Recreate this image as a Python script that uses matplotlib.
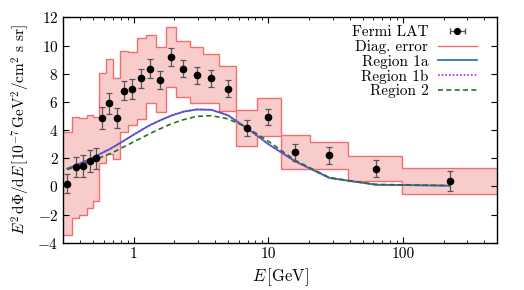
import numpy as np
import matplotlib
matplotlib.use("Agg")
import matplotlib.pyplot as plt
from matplotlib.lines import Line2D

plt.rcParams['font.family'] = ['cmr10', 'DejaVu Serif']
plt.rcParams['mathtext.fontset'] = 'cm'
plt.rcParams['axes.unicode_minus'] = False
plt.rcParams['axes.formatter.use_mathtext'] = True

# ------------------------------------------------------------
# Fermi LAT data points (E in GeV, E^2 dPhi/dE in 1e-7 GeV^2/cm^2 s sr)
energy = [0.321, 0.371, 0.42, 0.474, 0.525, 0.582, 0.659, 0.748, 0.853, 0.978,
          1.135, 1.32, 1.58, 1.905, 2.33, 2.93, 3.76, 5.0, 6.89, 10.0,
          15.8, 28.4, 62.4, 222.0]
flux = [0.2, 1.35, 1.45, 1.8, 2.0, 4.85, 5.9, 4.85, 6.8, 6.92,
        7.68, 8.36, 7.56, 9.19, 8.36, 7.89, 7.68, 6.92, 4.14, 4.92,
        2.42, 2.2, 1.26, 0.41]
flux_err = [0.68, 0.71, 0.75, 0.78, 0.74, 0.77, 0.74, 0.73, 0.68, 0.71,
            0.68, 0.68, 0.66, 0.66, 0.61, 0.61, 0.61, 0.6, 0.59, 0.58,
            0.59, 0.6, 0.6, 0.71]

# Diagonal error band (binned)
bin_edges = [0.3, 0.346, 0.395, 0.449, 0.497, 0.556, 0.623, 0.698, 0.794, 0.902,
             1.053, 1.226, 1.458, 1.741, 2.077, 2.604, 3.27, 4.285, 5.77, 8.17,
             12.43, 20.35, 39.0, 97.3, 500.0]
band_upper = [3.84, 4.92, 4.85, 5.04, 4.96, 8.03, 9.05, 7.68, 9.64, 9.52,
              10.51, 10.77, 9.88, 11.34, 10.35, 9.88, 9.38, 8.55, 5.44, 6.27,
              3.62, 3.13, 2.15, 1.34]
band_lower = [-3.48, -2.23, -2.0, -1.52, -1.05, 1.66, 2.32, 1.95, 3.85, 4.34,
              4.82, 5.95, 5.25, 7.06, 6.35, 5.91, 5.95, 5.32, 2.87, 3.55,
              1.2, 1.2, 0.38, -0.53]

# Model curves, read at the data energies
region_1a = [1.26, 1.5, 1.73, 1.95, 2.14, 2.38, 2.63, 2.94, 3.27, 3.62,
             3.99, 4.35, 4.7, 5.03, 5.3, 5.46, 5.44, 5.05, 4.15, 3.0,
             1.78, 0.6, 0.12, 0.05]
region_1b = [1.26, 1.5, 1.73, 1.95, 2.14, 2.38, 2.63, 2.94, 3.27, 3.62,
             3.99, 4.35, 4.7, 5.03, 5.31, 5.47, 5.45, 5.06, 4.15, 3.0,
             1.77, 0.6, 0.12, 0.05]
region_2 = [1.19, 1.4, 1.6, 1.78, 1.93, 2.1, 2.3, 2.55, 2.83, 3.12,
            3.43, 3.75, 4.1, 4.45, 4.73, 4.97, 5.02, 4.8, 4.2, 3.2,
            1.85, 0.62, 0.14, 0.06]

# ------------------------------------------------------------
fig = plt.figure(figsize=(5.24, 2.90), dpi=100)
ax = fig.add_axes([0.1208, 0.163, 0.8282, 0.777])

band_line = '#f26d6d'
ax.stairs(band_upper, bin_edges, baseline=band_lower, fill=True,
          facecolor='#f9cccc', edgecolor='none', zorder=1)
ax.stairs(band_upper, bin_edges, baseline=None, color=band_line, lw=1.0, zorder=2)
ax.stairs(band_lower, bin_edges, baseline=None, color=band_line, lw=1.0, zorder=2)

ax.plot(energy, region_1a, color='#2b74b8', lw=1.3, zorder=3)
ax.plot(energy, region_1b, color='#b020e8', lw=1.2, ls=(0, (1, 1.2)), zorder=4)
ax.plot(energy, region_2, color='#1a7a1a', lw=1.2, ls=(0, (3, 2)), zorder=4)

ax.errorbar(energy, flux, yerr=flux_err, fmt='o', color='black', ms=4.5,
            ecolor='#555555', elinewidth=0.9, capsize=2.2, capthick=0.9, zorder=5)

ax.set_xscale('log')
ax.set_xlim(0.3, 500)
ax.set_ylim(-4, 12)
ax.set_xticks([1, 10, 100])
ax.set_xticklabels(['1', '10', '100'])
ax.set_yticks(np.arange(-4, 13, 2))
ax.tick_params(which='both', direction='in', top=True, right=True, labelsize=11)
ax.tick_params(which='major', length=4, width=0.8)
ax.tick_params(which='minor', length=2.2, width=0.6)
ax.tick_params(axis='x', pad=3)
for s in ax.spines.values():
    s.set_linewidth(1.0)

ax.set_xlabel(r'$E\,[\mathrm{GeV}]$', fontsize=12, labelpad=4)
ax.set_ylabel(r'$E^2\,\mathrm{d}\Phi/\mathrm{d}E\,[10^{-7}\,\mathrm{GeV}^2/\mathrm{cm}^2\ \mathrm{s\ sr}]$',
              fontsize=11, labelpad=4)

# Legend (gnuplot style: text left, sample right)
fermi_h = ax.errorbar([np.nan], [np.nan], xerr=[1], fmt='o', color='black', ms=4.2,
                      ecolor='#555555', elinewidth=0.9, capsize=2.5)
handles = [fermi_h,
           Line2D([], [], color=band_line, lw=1.0),
           Line2D([], [], color='#2b74b8', lw=1.3),
           Line2D([], [], color='#b020e8', lw=1.2, ls=(0, (1, 1.2))),
           Line2D([], [], color='#1a7a1a', lw=1.2, ls=(0, (3, 2)))]
labels = ['Fermi LAT', 'Diag. error', 'Region 1a', 'Region 1b', 'Region 2']
ax.legend(handles, labels, loc='upper right', frameon=False, markerfirst=False,
          fontsize=11, handlelength=2.6, labelspacing=0.05, handletextpad=0.6,
          borderaxespad=0.2, bbox_to_anchor=(0.975, 1.005))

fig.savefig('out.png', dpi=100)
